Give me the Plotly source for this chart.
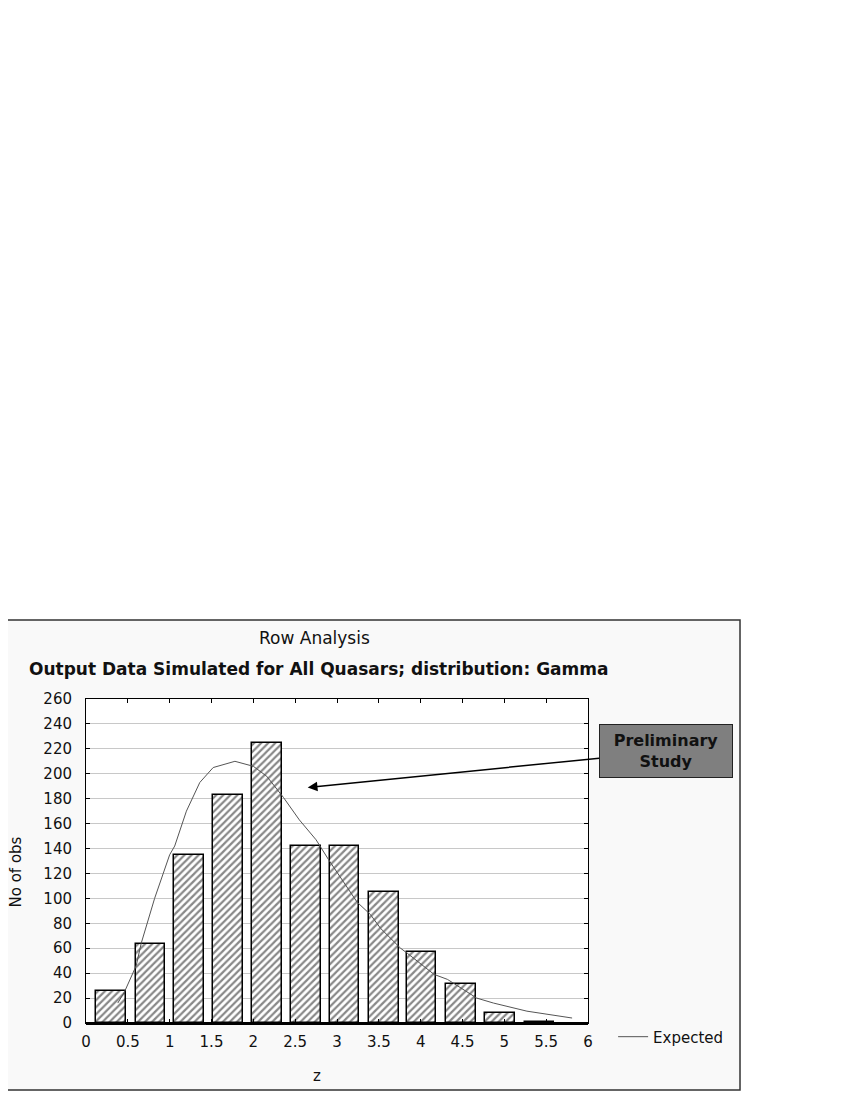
import plotly.graph_objects as go

# histogram of z (observed counts)
bin_z = [0.30, 0.77, 1.23, 1.70, 2.16, 2.63, 3.09, 3.56, 4.01, 4.48, 4.95, 5.42]
counts = [26, 63, 135, 183, 225, 142, 142, 105, 57, 31, 8, 1]

# expected gamma curve
exp_z = [0.38, 0.46, 0.60, 0.66, 0.82, 1.00, 1.06, 1.20, 1.36, 1.52, 1.78, 2.00, 2.16, 2.36,
         2.55, 2.75, 2.90, 3.24, 3.40, 3.52, 3.76, 3.84, 4.16, 4.32, 4.67, 4.87, 5.27, 5.81]
exp_y = [16, 25, 46, 64, 100, 135, 142, 170, 193, 205, 210, 206, 198, 181,
         163, 147, 131, 97, 87, 76, 60, 56, 39, 35, 20, 16, 9.5, 4]

heavy_grid = [100, 200]
note_point = (2.65, 189)

FONT = "DejaVu Sans"

fig = go.Figure()
fig.add_trace(go.Bar(
    x=bin_z, y=counts, width=0.355, showlegend=False,
    marker=dict(color="white", line=dict(color="black", width=1.5),
                pattern=dict(shape="/", fgcolor="#111", bgcolor="white", size=5, solidity=0.45)),
))
fig.add_trace(go.Scatter(x=exp_z, y=exp_y, mode="lines", name="Expected",
                         line=dict(color="#555", width=1)))

for v in heavy_grid:
    fig.add_hline(y=v, line=dict(color="#b4b4b4", width=2.5), layer="below")

# outer frame, then white plot area on top of it
fig.add_shape(type="rect", xref="paper", yref="paper", x0=-0.1614, x1=1.3028, y0=-0.2068, y1=1.2438,
              fillcolor="#f9f9f9", line=dict(color="#333", width=1.5), layer="below")
fig.add_shape(type="rect", xref="paper", yref="paper", x0=0, x1=1, y0=0, y1=1,
              fillcolor="white", line=dict(width=0), layer="below")

txt = dict(xref="paper", yref="paper", showarrow=False, xanchor="center", yanchor="middle")
fig.add_annotation(text="Row Analysis", x=0.456, y=1.188,
                   font=dict(family=FONT, size=17, color="#111"), **txt)
fig.add_annotation(text="<b>Output Data Simulated for All Quasars; distribution: Gamma</b>",
                   x=0.464, y=1.0926, font=dict(family=FONT, size=17, color="#111"), **txt)
fig.add_annotation(text="z", x=0.46, y=-0.165,
                   font=dict(family=FONT, size=15, color="#111"), **txt)
fig.add_annotation(text="No of obs", x=-0.1375, y=0.4676, textangle=-90,
                   font=dict(family=FONT, size=15, color="#111"), **txt)

fig.add_annotation(text="<b>Preliminary<br>Study</b>", x=note_point[0], y=note_point[1],
                   ax=358, ay=-36, showarrow=True, arrowhead=2, arrowsize=1.3, arrowwidth=1.5,
                   arrowcolor="black", bgcolor="#7f7f7f", bordercolor="#222", borderwidth=1,
                   width=128, height=48, borderpad=2,
                   font=dict(family=FONT, size=16, color="#111"))

fig.update_layout(
    width=850, height=1100,
    margin=dict(l=78, r=270, t=691, b=85, autoexpand=False),
    paper_bgcolor="white", plot_bgcolor="white",
    font=dict(family=FONT, size=15, color="#111"),
    bargap=0,
    legend=dict(x=1.05, y=-0.043, xanchor="left", yanchor="middle", bgcolor="rgba(0,0,0,0)",
                font=dict(family=FONT, size=15)),
    showlegend=True,
)
fig.update_xaxes(range=[0, 6], dtick=0.5, showgrid=False, zeroline=False,
                 showline=True, linecolor="black", linewidth=1, mirror="ticks",
                 ticks="inside", ticklen=4, tickcolor="black", ticklabelstandoff=5,
                 tickfont=dict(family=FONT, size=15))
fig.update_yaxes(range=[0, 260], dtick=20, showgrid=True, gridcolor="#c8c8c8", gridwidth=1,
                 zeroline=True, zerolinecolor="black", zerolinewidth=3,
                 showline=True, linecolor="black", linewidth=1, mirror="ticks",
                 ticks="inside", ticklen=4, tickcolor="black", ticklabelstandoff=10,
                 tickfont=dict(family=FONT, size=15))

fig.write_html("out.html")
